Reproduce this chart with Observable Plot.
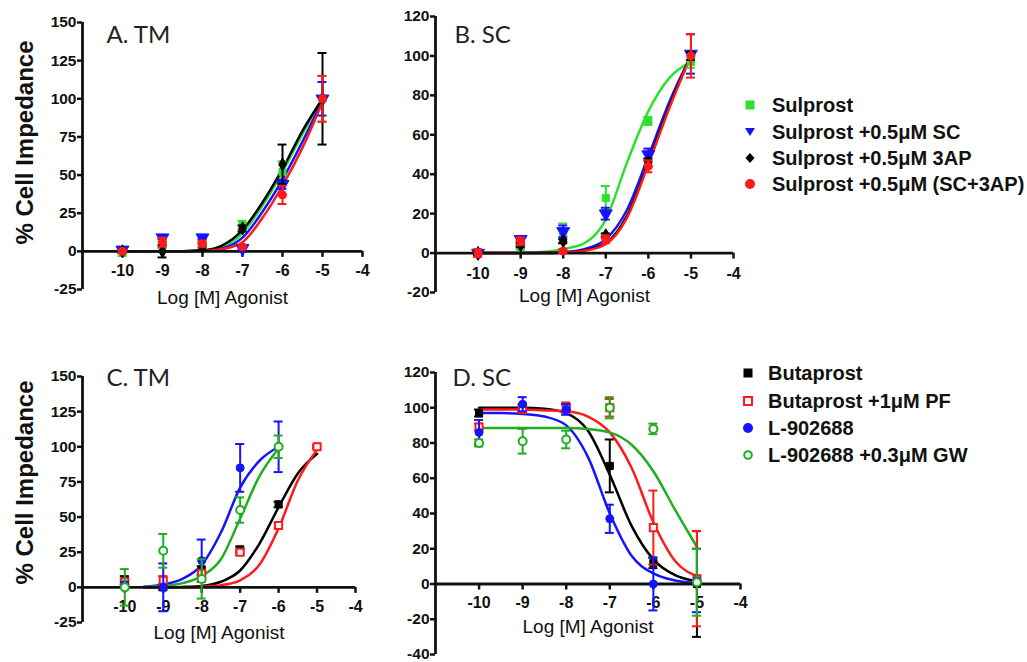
<!DOCTYPE html>
<html><head><meta charset="utf-8">
<script src="https://cdn.jsdelivr.net/npm/d3@7"></script>
<script src="https://cdn.jsdelivr.net/npm/@observablehq/plot@0.6"></script>
<style>
body{margin:0;background:#fff;}
#root{position:relative;width:1027px;height:662px;overflow:hidden;background:#fff;font-family:"Liberation Sans",Arial,sans-serif;}
.panel{position:absolute;}
.row{position:absolute;white-space:nowrap;font-weight:bold;font-size:20px;color:#111;line-height:20px;display:flex;align-items:center;}
.row svg{position:absolute;}
</style></head><body><div id="root"></div>
<script>
// ---- shared ----
const doses = [-10, -9, -8, -7, -6, -5];
const curveX = [-10, -9.5, -9, -8.5, -8, -7.5, -7, -6.5, -6, -5.5, -5];
const xTicks = [-10, -9, -8, -7, -6, -5, -4];
const yTicksTM = [-25, 0, 25, 50, 75, 100, 125, 150];
const yTicksB = [-20, 0, 20, 40, 60, 80, 100, 120];
const yTicksD = [-40, -20, 0, 20, 40, 60, 80, 100, 120];
const legendTop = ["Sulprost", "Sulprost +0.5\u03BCM SC", "Sulprost +0.5\u03BCM 3AP", "Sulprost +0.5\u03BCM (SC+3AP)"];
const legendBottom = ["Butaprost", "Butaprost +1\u03BCM PF", "L-902688", "L-902688 +0.3\u03BCM GW"];

// ---- Panel A: TM, sulprost ----
const meanA_sulp = [-1, 4, 4, 17, 52, 100];   const errA_sulp = [2, 2, 2, 3, 7, 15];
const meanA_sc   = [1, 9, 9, 2, 44, 100];     const errA_sc   = [1, 1, 1, 1, 3, 11];
const meanA_3ap  = [0, 0, 3, 15, 57, 100];    const errA_3ap  = [1, 4, 2, 2, 13, 30];
const meanA_both = [0, 6, 5, 3, 37, 100];     const errA_both = [1, 3, 2, 1, 6, 15];
const curveA_sulp = [0, 0, 0, 0.1, 0.5, 3, 12, 30, 52, 77, 100];
const curveA_sc   = [0, 0, 0, 0.1, 0.4, 2, 9, 26, 47, 72, 99];
const curveA_3ap  = [0, 0, 0, 0.1, 0.7, 4, 14, 32, 54, 79, 100];
const curveA_both = [0, 0, 0, 0, 0.2, 1.5, 6, 22, 43, 68, 98];

// ---- Panel B: SC, sulprost ----
const meanB_sulp = [0, 3, 10, 28, 67, 97];    const errB_sulp = [1, 1, 5, 6, 2, 3];
const meanB_sc   = [0, 7, 11, 20, 50, 101];   const errB_sc   = [1, 1, 3, 3, 3, 10];
const meanB_3ap  = [0, 4, 6, 9, 46, 100];     const errB_3ap  = [1, 1, 1, 1, 2, 2];
const meanB_both = [0, 6, 1, 7, 44, 100];     const errB_both = [2, 2, 1, 2, 3, 11];
const curveB_sulp = [0, 0, 0.1, 0.5, 2, 5, 17, 46, 72, 89, 97];
const curveB_sc   = [0, 0, 0, 0.1, 0.5, 2, 7, 22, 49, 77, 100];
const curveB_3ap  = [0, 0, 0, 0, 0.3, 1.5, 5, 19, 46, 75, 100];
const curveB_both = [0, 0, 0, 0, 0.3, 1.2, 4.5, 18, 45, 74, 100];

// ---- Panel C: TM, butaprost / L-902688 ----
const meanC_buta = [5, 0, 12, 27, 59, 100];   const errC_buta = [3, 2, 3, 2, 2, 1];
const meanC_pf   = [4, 5, 10, 25, 44, 100];   const errC_pf   = [2, 3, 2, 2, 2, 1];
const meanC_l90  = [2, 0, 19, 85, 100, null]; const errC_l90  = [2, 17, 15, 17, 18, null];
const meanC_gw   = [0, 26, 6, 55, 100, null]; const errC_gw   = [13, 12, 14, 9, 8, null];
const curveC_buta = [null, 0, 0, 0.3, 1, 4, 12, 31, 57, 81, 95];
const curveC_pf   = [null, 0, 0, 0, 0.4, 1.5, 5, 16, 42, 76, 98];
const curveC_l90  = [null, 0.5, 2, 6, 16, 39, 71, 90, 100, null, null];
const curveC_gw   = [null, 0.2, 1, 3, 8, 20, 49, 79, 99, null, null];

// ---- Panel D: SC, butaprost / L-902688 ----
const meanD_buta = [97, 100, 100, 67, 12, 0]; const errD_buta = [2, 2, 2, 15, 3, 30];
const meanD_pf   = [89, 99, 100, 100, 32, 3]; const errD_pf   = [2, 2, 3, 5, 21, 27];
const meanD_l90  = [86, 102, 99, 37, 0, 2];   const errD_l90  = [7, 4, 3, 8, 15, 18];
const meanD_gw   = [80, 81, 82, 100, 88, 1];  const errD_gw   = [2, 7, 5, 6, 3, 19];
const curveD_buta = [100, 100, 100, 99.5, 97, 87, 62, 33, 14, 5, 1.5];
const curveD_pf   = [99, 99, 99, 98.5, 98, 95, 86, 66, 35, 13, 4.5];
const curveD_l90  = [97, 97, 96.5, 95, 90, 72, 40, 16, 6, 2, 0.5];
const curveD_gw   = [88.5, 88.5, 88.5, 88.5, 88.5, 88, 86, 79, 64, 42, 21];

// ---- styles ----
const GREEN1 = "#2ee02e", GREEN2 = "#1fae1f", BLUE = "#1414ff", RED = "#ff1a1a", BLACK = "#000";
const triangleDown = {draw(context, size) {
  const y = -Math.sqrt(size / (Math.sqrt(3) * 3));
  context.moveTo(0, -y * 2);
  context.lineTo(-Math.sqrt(3) * y, y);
  context.lineTo(Math.sqrt(3) * y, y);
  context.closePath();
}};

function panel(cfg) {
  const marks = [];
  cfg.series.forEach(s => {
    const cd = curveX.map((x, i) => ({x, y: s.curve[i]})).filter(d => d.y != null);
    marks.push(Plot.line(cd, {x: "x", y: "y", stroke: s.color, strokeWidth: 2.5, curve: "monotone-x"}));
  });
  marks.push(Plot.ruleY([0], {strokeWidth: 2.8}));
  marks.push(Plot.ruleX([cfg.xDomain[0]], {strokeWidth: 2.8}));
  marks.push(Plot.axisY({ticks: cfg.yTicks, tickFormat: d => String(d), tickSize: 5, tickPadding: 1, strokeWidth: 2.5, fontSize: 15.5, fontWeight: "bold", label: null}));
  marks.push(Plot.ruleX(xTicks, {x: d => d, y1: 0, y2: 0, insetBottom: -6, strokeWidth: 2.5}));
  marks.push(Plot.text(xTicks, {x: d => d, y: 0, text: d => String(d), dy: cfg.xTickDy, fontSize: 16, fontWeight: "bold", fill: "#111"}));
  marks.push(Plot.text(["Log [M] Agonist"], {frameAnchor: "bottom", lineAnchor: "middle", dy: cfg.xLabelDy, fontSize: 19, fill: "#111"}));
  if (cfg.yLabel) marks.push(Plot.text([cfg.yLabel], {frameAnchor: "left", textAnchor: "middle", lineAnchor: "middle", rotate: -90, dx: cfg.yLabelDx, dy: cfg.yLabelDy, fontSize: 24, fontWeight: "bold", fill: "#111"}));
  marks.push(Plot.text([cfg.title], {frameAnchor: "top-left", textAnchor: "start", lineAnchor: "middle", dx: cfg.titleDx, dy: cfg.titleDy, fontSize: 24, fontFamily: "Lato, 'Open Sans', sans-serif", fill: "#222"}));
  cfg.series.forEach(s => {
    const pts = doses.map((x, i) => ({x, y: s.mean[i], e: s.err[i]})).filter(d => d.y != null);
    marks.push(Plot.ruleX(pts, {x: "x", y1: d => d.y - d.e, y2: d => d.y + d.e, stroke: s.color, strokeWidth: 2}));
    marks.push(Plot.ruleY(pts, {y: d => d.y - d.e, x1: "x", x2: "x", insetLeft: -4.5, insetRight: -4.5, stroke: s.color, strokeWidth: 2}));
    marks.push(Plot.ruleY(pts, {y: d => d.y + d.e, x1: "x", x2: "x", insetLeft: -4.5, insetRight: -4.5, stroke: s.color, strokeWidth: 2}));
    marks.push(Plot.dot(pts, {x: "x", y: "y", symbol: s.symbol, r: s.r || 4, fill: s.open ? "white" : s.color, stroke: s.color, strokeWidth: s.open ? 2 : 1}));
  });
  const svg = Plot.plot({
    width: cfg.width, height: cfg.height,
    marginTop: cfg.mt, marginBottom: cfg.mb, marginLeft: cfg.ml, marginRight: cfg.mr,
    x: {domain: cfg.xDomain, axis: null},
    y: {domain: cfg.yDomain, axis: null},
    style: {background: "none", overflow: "visible", fontFamily: "'Liberation Sans', Arial, sans-serif", color: "#111"},
    marks
  });
  svg.classList.add("panel");
  svg.style.left = cfg.left + "px";
  svg.style.top = cfg.top + "px";
  document.getElementById("root").appendChild(svg);
}

panel({left: 0, top: 0, width: 370, height: 330, mt: 22, mb: 41, ml: 82, mr: 8,
  xDomain: [-11, -4], yDomain: [-25, 150], yTicks: yTicksTM,
  title: "A. TM", titleDx: 24, titleDy: 13, yLabel: "% Cell Impedance", yLabelDx: -57, yLabelDy: -13.5,
  xTickDy: 20, xLabelDy: 8,
  series: [
    {mean: meanA_sulp, err: errA_sulp, curve: curveA_sulp, color: GREEN1, symbol: "square"},
    {mean: meanA_sc, err: errA_sc, curve: curveA_sc, color: BLUE, symbol: triangleDown, r: 4.8},
    {mean: meanA_3ap, err: errA_3ap, curve: curveA_3ap, color: BLACK, symbol: "diamond"},
    {mean: meanA_both, err: errA_both, curve: curveA_both, color: RED, symbol: "circle"}
  ]});

panel({left: 360, top: 0, width: 380, height: 330, mt: 16, mb: 38, ml: 75, mr: 7,
  xDomain: [-11, -4], yDomain: [-20, 120], yTicks: yTicksB,
  title: "B. SC", titleDx: 19, titleDy: 19,
  xTickDy: 21, xLabelDy: 3,
  series: [
    {mean: meanB_sulp, err: errB_sulp, curve: curveB_sulp, color: GREEN1, symbol: "square"},
    {mean: meanB_sc, err: errB_sc, curve: curveB_sc, color: BLUE, symbol: triangleDown, r: 4.8},
    {mean: meanB_3ap, err: errB_3ap, curve: curveB_3ap, color: BLACK, symbol: "diamond"},
    {mean: meanB_both, err: errB_both, curve: curveB_both, color: RED, symbol: "circle"}
  ]});

panel({left: 0, top: 330, width: 370, height: 332, mt: 46, mb: 40, ml: 82, mr: 15,
  xDomain: [-11.1, -4], yDomain: [-25, 150], yTicks: yTicksTM,
  title: "C. TM", titleDx: 24, titleDy: 2, yLabel: "% Cell Impedance", yLabelDx: -57, yLabelDy: -17,
  xTickDy: 20, xLabelDy: 10,
  series: [
    {mean: meanC_buta, err: errC_buta, curve: curveC_buta, color: BLACK, symbol: "square"},
    {mean: meanC_pf, err: errC_pf, curve: curveC_pf, color: RED, symbol: "square", open: true},
    {mean: meanC_l90, err: errC_l90, curve: curveC_l90, color: BLUE, symbol: "circle"},
    {mean: meanC_gw, err: errC_gw, curve: curveC_gw, color: GREEN2, symbol: "circle", open: true}
  ]});

panel({left: 360, top: 330, width: 390, height: 332, mt: 42, mb: 8, ml: 75, mr: 10,
  xDomain: [-11, -4], yDomain: [-40, 120], yTicks: yTicksD,
  title: "D. SC", titleDx: 17, titleDy: 6,
  xTickDy: 19, xLabelDy: -28,
  series: [
    {mean: meanD_buta, err: errD_buta, curve: curveD_buta, color: BLACK, symbol: "square"},
    {mean: meanD_pf, err: errD_pf, curve: curveD_pf, color: RED, symbol: "square", open: true},
    {mean: meanD_l90, err: errD_l90, curve: curveD_l90, color: BLUE, symbol: "circle"},
    {mean: meanD_gw, err: errD_gw, curve: curveD_gw, color: GREEN2, symbol: "circle", open: true}
  ]});

// ---- legends ----
const markTop = [
  `<rect x="1.5" y="1.5" width="9" height="9" fill="${GREEN1}"/>`,
  `<path d="M1,2 L11,2 L6,10 Z" fill="${BLUE}"/>`,
  `<path d="M6,1 L10.5,6 L6,11 L1.5,6 Z" fill="${BLACK}"/>`,
  `<circle cx="6" cy="6" r="5" fill="${RED}"/>`
];
const markBottom = [
  `<rect x="1.5" y="1.5" width="9" height="9" fill="${BLACK}"/>`,
  `<rect x="2" y="2" width="8" height="8" fill="white" stroke="${RED}" stroke-width="2"/>`,
  `<circle cx="6" cy="6" r="5" fill="${BLUE}"/>`,
  `<circle cx="6" cy="6" r="3.8" fill="white" stroke="${GREEN2}" stroke-width="2"/>`
];
function legend(labels, marksHtml, markX, textX, ys) {
  const root = document.getElementById("root");
  labels.forEach((lab, i) => {
    const m = document.createElementNS("http://www.w3.org/2000/svg", "svg");
    m.setAttribute("width", 12); m.setAttribute("height", 12);
    m.style.position = "absolute"; m.style.left = (markX - 6) + "px"; m.style.top = (ys[i] - 6) + "px";
    m.innerHTML = marksHtml[i];
    root.appendChild(m);
    const d = document.createElement("div");
    d.className = "row";
    d.style.left = textX + "px"; d.style.top = (ys[i] - 10) + "px";
    d.textContent = lab;
    root.appendChild(d);
  });
}
legend(legendTop, markTop, 750, 772, [105, 132, 158, 184]);
legend(legendBottom, markBottom, 748, 768, [373, 401, 428, 455]);
</script></body></html>
